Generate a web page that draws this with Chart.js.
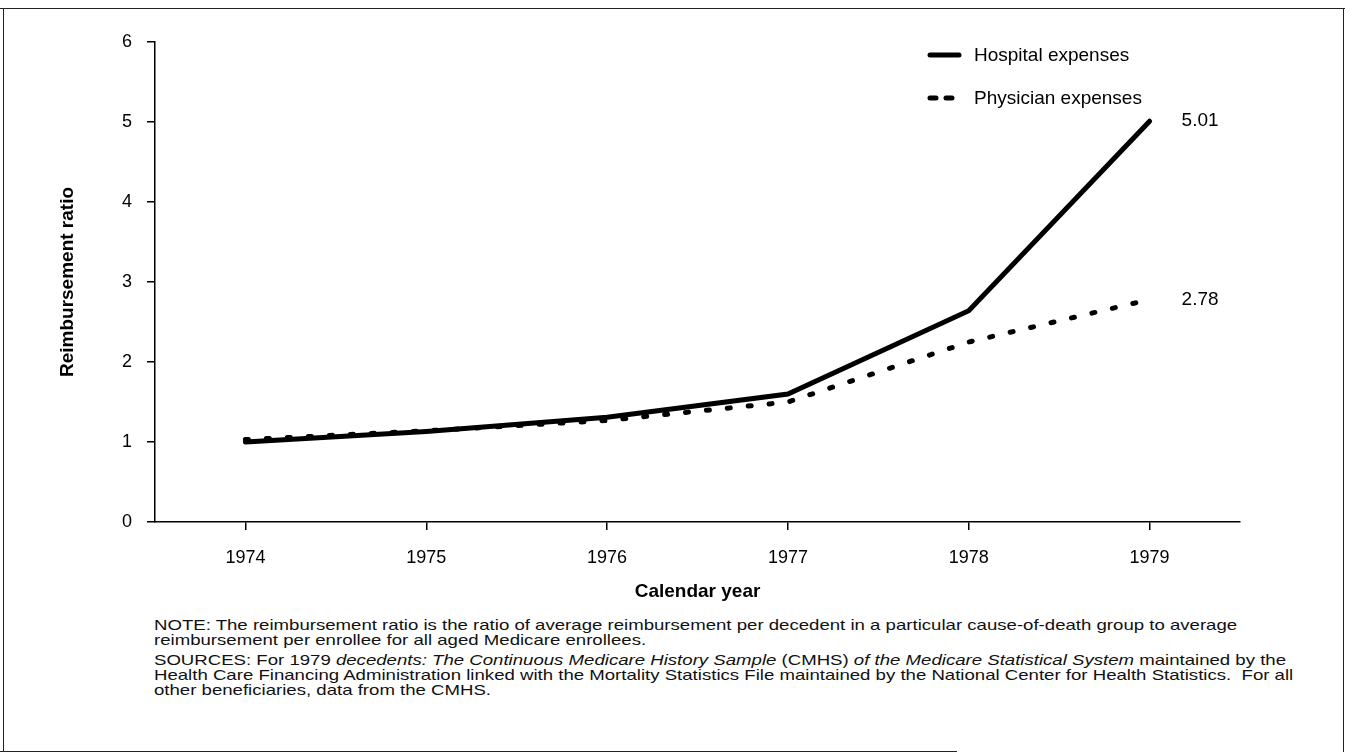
<!DOCTYPE html>
<html>
<head>
<meta charset="utf-8">
<script src="https://cdn.jsdelivr.net/npm/chart.js@4"></script>
<style>
  html, body { margin: 0; padding: 0; background: #fff; }
  body { width: 1345px; height: 752px; position: relative; overflow: hidden; font-family: "Liberation Sans", Arial, sans-serif; }
  #wrap { position: absolute; left: 0; top: 0; width: 1345px; height: 610px; }
  .notes { position: absolute; left: 154px; font-size: 15px; line-height: 15px; color: #111; white-space: nowrap;
           transform: scaleX(1.24); transform-origin: 0 0; }
  .ln { position: absolute; background: #222; }
</style>
</head>
<body>
<div id="wrap"><canvas id="chart" width="1345" height="610"></canvas></div>

<div class="notes" style="top:617px">NOTE: The reimbursement ratio is the ratio of average reimbursement per decedent in a particular cause-of-death group to average<br>reimbursement per enrollee for all aged Medicare enrollees.</div>
<div class="notes" style="top:652px">SOURCES: For 1979 <i>decedents: The Continuous Medicare History Sample</i> (CMHS) <i>of the Medicare Statistical System</i> maintained by the<br>Health Care Financing Administration linked with the Mortality Statistics File maintained by the National Center for Health Statistics.&nbsp; For all<br>other beneficiaries, data from the CMHS.</div>

<!-- frame of the scanned page -->
<div class="ln" style="left:0;top:8px;width:1345px;height:1px"></div>
<div class="ln" style="left:3px;top:8px;width:1px;height:744px"></div>
<div class="ln" style="left:1343px;top:8px;width:1px;height:744px"></div>
<div class="ln" style="left:0;top:751px;width:957px;height:1px"></div>

<script>
const years = ['1974', '1975', '1976', '1977', '1978', '1979'];
const hospital = [1.0, 1.13, 1.31, 1.6, 2.64, 5.01];
const physician = [1.03, 1.14, 1.27, 1.5, 2.25, 2.78];
const seriesNames = ['Hospital expenses', 'Physician expenses'];
const yTicks = [0, 1, 2, 3, 4, 5, 6];

const font = '"Liberation Sans", Arial, sans-serif';

// end-of-line value labels and the legend, drawn on top of the plot
const extras = {
  id: 'extras',
  afterDatasetsDraw(chart) {
    const ctx = chart.ctx;
    ctx.save();
    ctx.fillStyle = '#000';
    ctx.font = '19px ' + font;
    ctx.textBaseline = 'middle';
    ctx.textAlign = 'left';
    chart.data.datasets.forEach((ds, i) => {
      const pts = chart.getDatasetMeta(i).data;
      const last = pts[pts.length - 1];
      const v = ds.data[ds.data.length - 1];
      ctx.fillText(v.toFixed(2), last.x + 32, last.y);
    });

    // legend
    const lx = 928, ly = [55, 98];
    chart.data.datasets.forEach((ds, i) => {
      ctx.strokeStyle = '#000';
      ctx.lineWidth = 5;
      ctx.lineCap = 'round';
      ctx.setLineDash(i === 1 ? [6, 10] : []);
      ctx.beginPath();
      ctx.moveTo(lx + 2, ly[i]);
      ctx.lineTo(lx + 31, ly[i]);
      ctx.stroke();
      ctx.setLineDash([]);
      ctx.fillText(ds.label, lx + 46, ly[i] + 1);
    });
    ctx.restore();
  }
};

new Chart(document.getElementById('chart'), {
  type: 'line',
  data: {
    labels: years,
    datasets: [
      {
        label: seriesNames[0],
        data: hospital,
        borderColor: '#000',
        borderWidth: 5,
        borderCapStyle: 'round',
        pointRadius: 0,
        tension: 0
      },
      {
        label: seriesNames[1],
        data: physician,
        borderColor: '#000',
        borderWidth: 5,
        borderDash: [3, 18],
        borderCapStyle: 'round',
        pointRadius: 0,
        tension: 0
      }
    ]
  },
  options: {
    responsive: false,
    animation: false,
    layout: { padding: { top: 42, right: 105, left: 0, bottom: 0 } },
    plugins: { legend: { display: false }, tooltip: { enabled: false } },
    scales: {
      x: {
        offset: true,
        afterFit: s => { s.height = 88; },
        border: { display: true, color: '#000', width: 1.5 },
        grid: { drawOnChartArea: false, offset: false, tickLength: 8, color: '#000', lineWidth: 1.5 },
        ticks: { color: '#000', font: { family: font, size: 18 }, padding: 17 },
        title: { display: true, text: 'Calendar year', color: '#000', font: { family: font, size: 19, weight: 'bold' }, padding: { bottom: 7 } }
      },
      y: {
        min: 0,
        max: 6,
        afterBuildTicks: s => { s.ticks = yTicks.map(v => ({ value: v })); },
        afterFit: s => { s.width = 155; },
        border: { display: true, color: '#000', width: 1.5 },
        grid: { drawOnChartArea: false, tickLength: 8, color: '#000', lineWidth: 1.5 },
        ticks: { color: '#000', font: { family: font, size: 18 }, padding: 15 },
        title: { display: true, text: 'Reimbursement ratio', color: '#000', font: { family: font, size: 19, weight: 'bold' }, padding: { top: 56 } }
      }
    }
  },
  plugins: [extras]
});
</script>
</body>
</html>
